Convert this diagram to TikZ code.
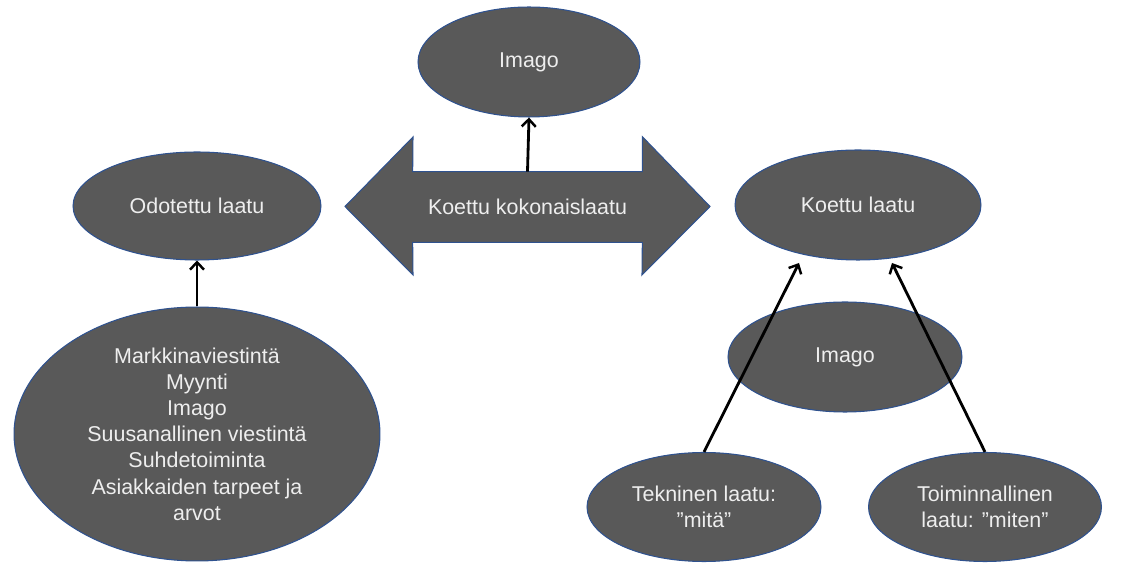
\documentclass[tikz,border=0pt]{standalone}
\usepackage{fontspec}
\setmainfont{Liberation Sans}
\usetikzlibrary{shapes.geometric,arrows.meta,calc}
\definecolor{bubble}{HTML}{595959}
\definecolor{rim}{HTML}{2F528F}
\definecolor{ink}{HTML}{EEEEEE}
\begin{document}
\begin{tikzpicture}[x=0.02cm,y=-0.02cm,
  bubble/.style={ellipse,draw=rim,line width=0.6pt,fill=bubble,text=ink,
    inner sep=0pt,align=center,font=\fontsize{12.2}{14.9}\selectfont},
  conn/.style={line width=1.6pt,-{Straight Barb[length=4.2pt,width=8pt,line width=1.4pt]}}]
\useasboundingbox (0,0) rectangle (1130,563);

% ellipses
\node[bubble,minimum width=4.44cm,minimum height=2.2cm] (imtop) at (529,62) {Imago};
\node[bubble,minimum width=4.96cm,minimum height=2.16cm] (odo) at (197,206) {Odotettu laatu};
\node[bubble,minimum width=4.92cm,minimum height=2.2cm] (kl) at (858,205) {Koettu laatu};
\node[bubble,minimum width=7.32cm,minimum height=5.08cm] (src) at (197,434)
  {Markkinaviestintä\\Myynti\\Imago\\Suusanallinen viestintä\\Suhdetoiminta\\Asiakkaiden tarpeet ja\\arvot};
\node[bubble,minimum width=4.68cm,minimum height=2.2cm] (immid) at (845,357) {Imago};
\node[bubble,minimum width=4.68cm,minimum height=2.18cm] (tek) at (704,507) {Tekninen laatu:\\”mitä”};
\node[bubble,minimum width=4.66cm,minimum height=2.18cm] (toi) at (985,507) {Toiminnallinen\\laatu: ”miten”};

% double-headed block arrow around the shaft node
\node[inner sep=0pt,minimum width=4.58cm,minimum height=1.4cm] (koko) at (527.5,207) {};
\fill[bubble,draw=rim,line width=0.6pt]
  (koko.north west) -- (koko.north east) -- ++(0,-35) -- (710,206.5) -- (642,275)
  -- (koko.south east) -- (koko.south west) -- (413,275) -- (345,206.5) -- (413,137) -- cycle;
\node[text=ink,font=\fontsize{12.2}{14.9}\selectfont] at (koko) {Koettu kokonaislaatu};

% connectors
\coordinate (klL) at (799,263);
\coordinate (klR) at (892,263);
\draw[conn] (koko.north) -- (imtop.south);
\draw[conn] (src.north) -- (odo.south);
\draw[conn] (tek.north) -- (klL);
\draw[conn] (toi.north) -- (klR);
\end{tikzpicture}
\end{document}
